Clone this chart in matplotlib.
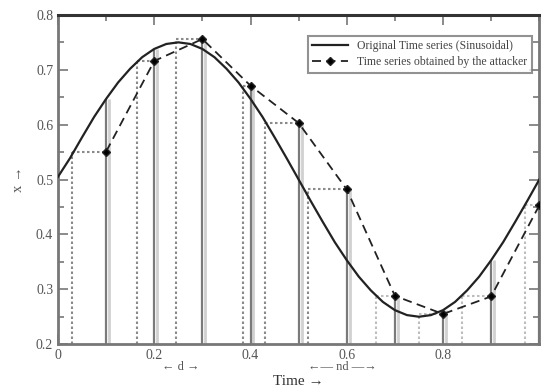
import matplotlib
matplotlib.use("Agg")
from matplotlib import pyplot as plt
import numpy as np

# original sinusoid, every 0.025
orig_t = [0.0, 0.025, 0.05, 0.075, 0.1, 0.125, 0.15, 0.175, 0.2, 0.225,
          0.25, 0.275, 0.3, 0.325, 0.35, 0.375, 0.4, 0.425, 0.45, 0.475,
          0.5, 0.525, 0.55, 0.575, 0.6, 0.625, 0.65, 0.675, 0.7, 0.725,
          0.75, 0.775, 0.8, 0.825, 0.85, 0.875, 0.9, 0.925, 0.95, 0.975, 1.0]
orig_x = [0.505, 0.539, 0.577, 0.614, 0.647, 0.677, 0.702, 0.723, 0.738, 0.747,
          0.750, 0.747, 0.738, 0.723, 0.702, 0.677, 0.647, 0.614, 0.577, 0.539,
          0.500, 0.461, 0.423, 0.386, 0.353, 0.323, 0.298, 0.277, 0.262, 0.253,
          0.250, 0.253, 0.262, 0.277, 0.298, 0.323, 0.353, 0.386, 0.423, 0.461, 0.500]

# samples of the attacker's series
att_t = [0.1, 0.2, 0.3, 0.4, 0.5, 0.6, 0.7, 0.8, 0.9, 1.0]
att_x = [0.551, 0.716, 0.756, 0.671, 0.603, 0.482, 0.288, 0.255, 0.287, 0.453]
# sinusoid value at the sample times
orig_at_t = [0.647, 0.738, 0.738, 0.647, 0.500, 0.353, 0.262, 0.262, 0.353, 0.500]
# earlier time at which the sinusoid had the attacker's value
src_t = [0.03, 0.165, 0.245, 0.385, 0.43, 0.52, 0.66, 0.75, 0.84, 0.97]

plt.rcParams["font.family"] = ["Liberation Serif", "DejaVu Serif"]

fig = plt.figure(figsize=(5.42, 3.92), dpi=100)
ax = fig.add_axes([0.107, 0.122, 0.888, 0.840])

ymin = 0.2
# solid sample lines
for t, a, o in zip(att_t, att_x, orig_at_t):
    top = max(a, o)
    ax.vlines(t + 0.006, ymin, top, color="#d0d0d0", linewidth=2.0, zorder=1)
    ax.vlines(t, ymin, top, color="#7a7a7a", linewidth=1.6, zorder=2)

# dotted delay lines
for i, (s, t, a) in enumerate(zip(src_t, att_t, att_x)):
    c = "#8a8a8a" if i < 6 else "#bdbdbd"
    ax.vlines(s, ymin, a, color=c, linewidth=1.5, linestyles=(0, (1.2, 1.2)), zorder=2)
    ax.hlines(a, s, t, color=c, linewidth=1.5, linestyles=(0, (1.2, 1.2)), zorder=2)

ax.plot(orig_t, orig_x, color="#222222", linewidth=1.6, zorder=4,
        label="Original Time series (Sinusoidal)")
ax.plot(att_t, att_x, color="#222222", linewidth=1.3, linestyle=(0, (5, 3)),
        marker="D", markersize=4.5, markerfacecolor="black", zorder=5,
        label="Time series obtained by the attacker")

ax.set_xlim(0, 1)
ax.set_ylim(0.2, 0.8)
ax.set_xticks([0, 0.2, 0.4, 0.6, 0.8])
ax.set_xticklabels(["0", "0.2", "0.4", "0.6", "0.8"])
ax.set_xticks(np.arange(0, 1.01, 0.1), minor=True)
ax.set_yticks([0.2, 0.3, 0.4, 0.5, 0.6, 0.7, 0.8])
ax.set_yticks(np.arange(0.2, 0.81, 0.05), minor=True)
ax.tick_params(which="both", direction="in", top=True, right=True,
               colors="#777777", labelcolor="#555555", labelsize=10)
ax.tick_params(which="major", length=7, width=1.2)
ax.tick_params(which="minor", length=4, width=1.2)
for side in ["left", "bottom", "right"]:
    ax.spines[side].set_color("#777777")
    ax.spines[side].set_linewidth(2)
ax.spines["top"].set_color("#333333")
ax.spines["top"].set_linewidth(2.2)

ax.set_xlabel("Time \u2192", fontsize=11, color="#333333", labelpad=9)
ax.set_ylabel("x \u2192", fontsize=10.5, color="#555555", labelpad=8)

# delay annotations under the axis
ax.text(0.255, -0.07, "\u2190 d \u2192", transform=ax.get_xaxis_transform(),
        ha="center", va="center", fontsize=9, color="#555555")
ax.text(0.59, -0.07, "\u2190\u2014 nd \u2014\u2192", transform=ax.get_xaxis_transform(),
        ha="center", va="center", fontsize=9, color="#555555")

leg = ax.legend(loc="upper right", bbox_to_anchor=(0.997, 0.955), fontsize=8.5,
                frameon=True, fancybox=False, handlelength=3.0, borderpad=0.4,
                labelspacing=0.3)
leg.get_frame().set_edgecolor("#777777")
leg.get_frame().set_linewidth(1.5)
for txt in leg.get_texts():
    txt.set_color("#444444")

plt.savefig("out.png", dpi=100)
